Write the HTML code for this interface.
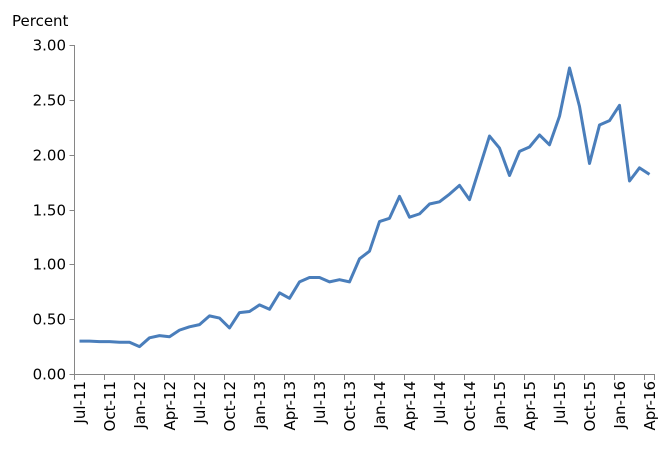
<!DOCTYPE html>
<html><head><meta charset="utf-8"><style>
body{margin:0;background:#fff;}
svg text{font-family:"DejaVu Sans","Liberation Sans",sans-serif;font-size:15px;fill:#000;}
</style></head><body>
<svg id="chart" width="672" height="453">
<text x="12" y="26">Percent</text>
<g id="axes"></g>
<path id="series" fill="none" stroke="#4a7ebb" stroke-width="3" stroke-linejoin="round"></path>
</svg>
<script>
const categories=["Jul-11","Aug-11","Sep-11","Oct-11","Nov-11","Dec-11","Jan-12","Feb-12","Mar-12","Apr-12","May-12","Jun-12","Jul-12","Aug-12","Sep-12","Oct-12","Nov-12","Dec-12","Jan-13","Feb-13","Mar-13","Apr-13","May-13","Jun-13","Jul-13","Aug-13","Sep-13","Oct-13","Nov-13","Dec-13","Jan-14","Feb-14","Mar-14","Apr-14","May-14","Jun-14","Jul-14","Aug-14","Sep-14","Oct-14","Nov-14","Dec-14","Jan-15","Feb-15","Mar-15","Apr-15","May-15","Jun-15","Jul-15","Aug-15","Sep-15","Oct-15","Nov-15","Dec-15","Jan-16","Feb-16","Mar-16","Apr-16"];
const values=[0.30,0.30,0.295,0.295,0.29,0.29,0.25,0.33,0.35,0.34,0.40,0.43,0.45,0.53,0.51,0.42,0.56,0.57,0.63,0.59,0.74,0.69,0.84,0.88,0.88,0.84,0.86,0.84,1.05,1.12,1.39,1.42,1.62,1.43,1.46,1.55,1.57,1.64,1.72,1.59,1.88,2.17,2.06,1.81,2.03,2.07,2.18,2.09,2.35,2.79,2.44,1.92,2.27,2.31,2.45,1.76,1.88,1.82];
const yTicks=[0,0.5,1,1.5,2,2.5,3];
const yTickLabels=["0.00","0.50","1.00","1.50","2.00","2.50","3.00"];
const X0=74.5,STEP=10,Y0=374,YTOP=45,YMAX=3;
function x(i){return X0+STEP*(i+0.5);}
function y(v){return Y0-(v/YMAX)*(Y0-YTOP);}
const NS="http://www.w3.org/2000/svg";
const ax=document.getElementById('axes');
function mk(t,a){const e=document.createElementNS(NS,t);for(const k in a)e.setAttribute(k,a[k]);ax.appendChild(e);return e;}
const right=X0+STEP*categories.length;
let yl=mk('line',{x1:X0,y1:YTOP,x2:X0,y2:Y0,stroke:'#868686'});


let xl=mk('line',{x1:X0,y1:Y0+0.5,x2:right,y2:Y0+0.5,stroke:'#868686'});


yTicks.forEach((v,i)=>{
 const yy=Math.round(y(v))+0.5;
 let t=mk('line',{x1:X0-5,y1:yy,x2:X0,y2:yy,stroke:'#868686'});
 
 
 let l=mk('text',{x:66,y:yy+5,'text-anchor':'end'});
 l.textContent=yTickLabels[i];
 
 
});
categories.forEach((c,i)=>{
 if(i%3===0){
  const tx=X0+STEP*i;
  let t=mk('line',{x1:tx,y1:Y0,x2:tx,y2:Y0+6,stroke:'#868686'});
  
  
  const cx=x(i)+5.5;
  let l=mk('text',{x:0,y:0,'text-anchor':'end',transform:`translate(${cx},${Y0+7}) rotate(-90)`});
  l.textContent=c;
  
  
 }
});
const tx=X0+STEP*categories.length;
let te=mk('line',{x1:tx,y1:Y0,x2:tx,y2:Y0+6,stroke:'#868686'});


document.getElementById('series').setAttribute('d',values.map((v,i)=>(i?'L':'M')+x(i)+','+y(v)).join(' '));
</script>
</body></html>
